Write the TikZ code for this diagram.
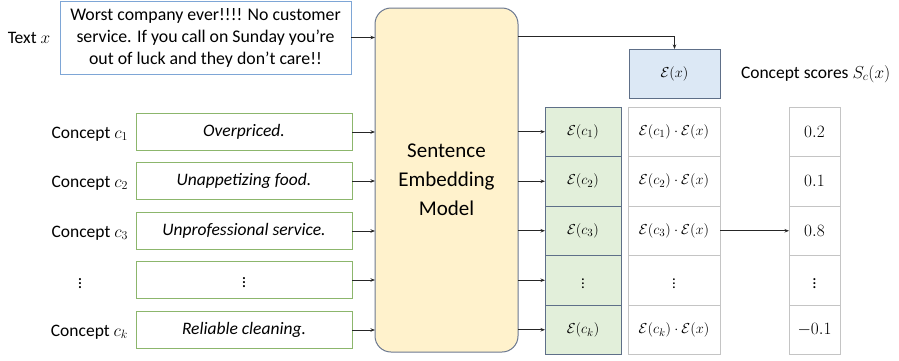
\documentclass[tikz,border=0pt]{standalone}
\usepackage{fontspec}
\setmainfont{Carlito}
\usetikzlibrary{arrows.meta}
\definecolor{txtblue}{HTML}{7EA6D6}
\definecolor{cgreen}{HTML}{8CB66C}
\definecolor{mfill}{HTML}{FFF2CC}
\definecolor{mborder}{HTML}{6B7890}
\definecolor{gfill}{HTML}{E2EFDA}
\definecolor{gborder}{HTML}{5E6F88}
\definecolor{bfill}{HTML}{DCE8F5}
\definecolor{cellgray}{HTML}{C4C4C4}
\begin{document}
\begin{tikzpicture}[x=1pt,y=-1pt,
  every node/.style={inner sep=0pt,outer sep=0pt},
  arr/.style={-{Stealth[length=4.5pt,width=3.5pt]},line width=0.9pt,draw=black!85},
  txtbox/.style={draw=txtblue,line width=1pt,minimum width=291pt,minimum height=73pt,align=center,font=\fontsize{17.8}{22}\selectfont},
  cbox/.style={draw=cgreen,line width=1pt,minimum width=216pt,minimum height=36.5pt,font=\fontsize{17.5}{20}\selectfont\itshape},
  clabel/.style={anchor=east,font=\fontsize{17.5}{20}\selectfont},
  gcell/.style={draw=gborder,fill=gfill,line width=1pt,minimum width=76pt,minimum height=49.5pt,font=\fontsize{15}{17}\selectfont},
  pcell/.style={draw=cellgray,line width=1pt,minimum width=92pt,minimum height=49.5pt,font=\fontsize{15}{17}\selectfont},
  scell/.style={draw=cellgray,line width=1pt,minimum width=51pt,minimum height=49.5pt,font=\fontsize{17}{19}\selectfont},
]
\useasboundingbox (0,0) rectangle (899,360);

% text input
\node[txtbox] (tx) at (205.5,37.5) {Worst company ever!!!! No customer\\service. If you call on Sunday you're\\out of luck and they don't care!!};
\node[font=\fontsize{17.5}{20}\selectfont] (txl) at (29,38) {Text $x$};

% model
\node[draw=mborder,fill=mfill,line width=1pt,rounded corners=16pt,minimum width=143pt,minimum height=344pt,align=center,font=\fontsize{21}{29}\selectfont] (model) at (446.5,180) {Sentence\\Embedding\\Model};

% E(x)
\node[draw=gborder,fill=bfill,line width=1pt,minimum width=91pt,minimum height=49pt,font=\fontsize{15}{17}\selectfont] (ex) at (674.5,73.5) {$\mathcal{E}(x)$};
\node[anchor=west,font=\fontsize{17.5}{20}\selectfont] (csl) at (741,74) {Concept scores $S_c(x)$};

% concepts
\node[cbox] (c1) at (244,132) {Overpriced.};
\node[cbox] (c2) at (244,181) {Unappetizing food.};
\node[cbox] (c3) at (244,231) {Unprofessional service.};
\node[cbox] (c4) at (244,280) {\upshape$\vdots$};
\node[cbox] (c5) at (244,330) {Reliable cleaning.};
\node[clabel] (l1) at (128,134) {Concept $c_1$};
\node[clabel] (l2) at (128,183) {Concept $c_2$};
\node[clabel] (l3) at (128,233) {Concept $c_3$};
\node[font=\fontsize{17.5}{20}\selectfont] (l4) at (80,281) {$\vdots$};
\node[clabel] (l5) at (128,332) {Concept $c_k$};

% embedding column
\node[gcell] (g1) at (583,131.75) {$\mathcal{E}(c_1)$};
\node[gcell] (g2) at (583,181.25) {$\mathcal{E}(c_2)$};
\node[gcell] (g3) at (583,230.75) {$\mathcal{E}(c_3)$};
\node[gcell] (g4) at (583,280.25) {$\vdots$};
\node[gcell] (g5) at (583,329.75) {$\mathcal{E}(c_k)$};

% product column
\node[pcell] (p1) at (674,131.75) {$\mathcal{E}(c_1)\cdot\mathcal{E}(x)$};
\node[pcell] (p2) at (674,181.25) {$\mathcal{E}(c_2)\cdot\mathcal{E}(x)$};
\node[pcell] (p3) at (674,230.75) {$\mathcal{E}(c_3)\cdot\mathcal{E}(x)$};
\node[pcell] (p4) at (674,280.25) {$\vdots$};
\node[pcell] (p5) at (674,329.75) {$\mathcal{E}(c_k)\cdot\mathcal{E}(x)$};

% score column
\node[scell] (s1) at (814.5,131.75) {$0.2$};
\node[scell] (s2) at (814.5,181.25) {$0.1$};
\node[scell] (s3) at (814.5,230.75) {$0.8$};
\node[scell] (s4) at (814.5,280.25) {$\vdots$};
\node[scell] (s5) at (814.5,329.75) {$-0.1$};

% connectors
\draw[arr] (tx.east) -- (tx.east -| model.west);
\coordinate (mx) at (518,36);
\draw[arr] (mx) -| (ex.north);
\foreach \i in {1,...,5}{
  \draw[arr] (c\i.east) -- (c\i.east -| model.west);
  \draw[arr] (model.east |- g\i.west) -- (g\i.west);
}
\draw[arr] (p3.east) -- (s3.west);
\end{tikzpicture}
\end{document}
